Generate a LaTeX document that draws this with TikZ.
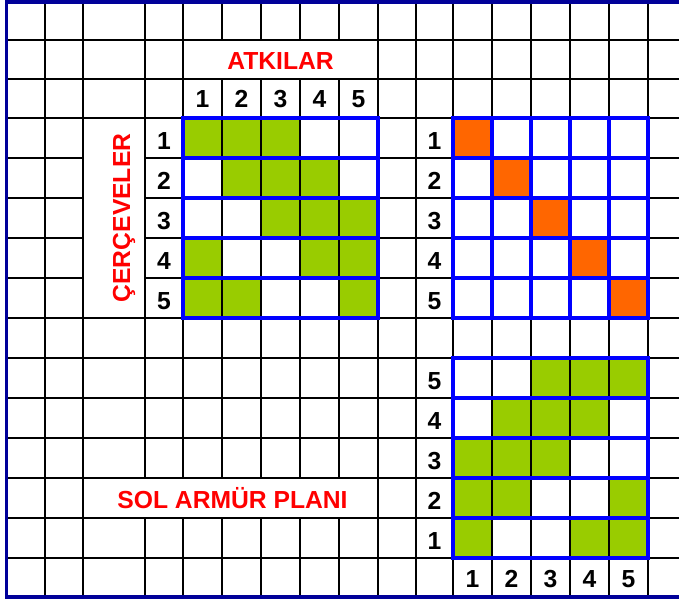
\documentclass[tikz,border=0pt]{standalone}
\usepackage{fontspec}
\setmainfont{Liberation Sans}
\usepackage{tikz}
\usetikzlibrary{calc}
\definecolor{yesil}{HTML}{99CC00}
\definecolor{turuncu}{HTML}{FF6600}
\definecolor{mavi}{HTML}{0000FF}
\definecolor{lacivert}{HTML}{000099}
\definecolor{kirmizi}{HTML}{FF0000}

\begin{document}
\begin{tikzpicture}[x=0.75pt, y=-0.75pt,
    izgara/.style={black, line width=0.9pt},
    kenar/.style={mavi, line width=3.4pt},
    ara/.style={mavi, line width=2.6pt},
    rakam/.style={font=\bfseries\fontsize{18.5}{20}\selectfont, black},
    baslik/.style={font=\bfseries\fontsize{18.5}{20}\selectfont, kirmizi}]
          \useasboundingbox (0,0) rectangle (679,600);
          \fill[white] (0,0) rectangle (679,600);
          \foreach \r/\c in {1/1,1/2,1/3,2/2,2/3,2/4,3/3,3/4,3/5,4/1,4/4,4/5,5/1,5/2,5/5}
            \fill[yesil] ({183+39*(\c-1)},{118+40*(\r-1)}) rectangle ++(39,40);
          \foreach \i in {1,...,5}
            \fill[turuncu] ({453+39*(\i-1)},{118+40*(\i-1)}) rectangle ++(39,40);
          \foreach \r/\c in {1/3,1/4,1/5,2/2,2/3,2/4,3/1,3/2,3/3,4/1,4/2,4/5,5/1,5/4,5/5}
            \fill[yesil] ({453+39*(\c-1)},{358+40*(\r-1)}) rectangle ++(39,40);
          \foreach \x in {45,83,145,183,222,261,300,339,378,416,453,492,531,570,609,648}
            \draw[izgara] (\x,3) -- (\x,597);
          \foreach \y in {40,79,118,158,198,238,278,318,358,398,438,478,518,558}
            \draw[izgara] (7,\y) -- (679,\y);
          \fill[white] (183.7,40.7) rectangle (377.3,78.3);
          \fill[white] (83.7,118.7) rectangle (144.3,317.3);
          \fill[white] (83.7,478.7) rectangle (377.3,517.3);
          \foreach \y in {158,198,238,278}
            \draw[ara] (183,\y) -- (378,\y);
          \draw[kenar] (183,118) rectangle (378,318);
          \foreach \y in {158,198,238,278}
            \draw[ara] (453,\y) -- (648,\y);
          \foreach \x in {492,531,570,609}
            \draw[ara] (\x,118) -- (\x,318);
          \draw[kenar] (453,118) rectangle (648,318);
          \foreach \y in {398,438,478,518}
            \draw[ara] (453,\y) -- (648,\y);
          \draw[kenar] (453,358) rectangle (648,558);
          \draw[lacivert, line width=2.3pt] (679,2) -- (6.5,2) -- (6.5,597) -- (679,597);
          \node[baslik] (atkilar) at (280.5,61) {ATKILAR};
          \node[baslik, rotate=90, anchor=base] (cerceveler) at (130,218) {ÇERÇEVELER};
          \node[baslik, anchor=base] (armur) at (232.5,508) {SOL ARMÜR PLANI};
          \foreach \i in {1,...,5} {
            \node[rakam] (atki\i) at ({183+39*(\i-0.5)},99) {\i};
            \node[rakam] (cerceve\i) at (164,{121+40*(\i-0.5)}) {\i};
            \node[rakam] (sira\i) at (434.5,{121+40*(\i-0.5)}) {\i};
            \node[rakam] (armur\i) at (434.5,{361+40*(5.5-\i)}) {\i};
            \node[rakam] (alt\i) at ({453+39*(\i-0.5)},579) {\i};
          }
        \end{tikzpicture}
\end{document}
